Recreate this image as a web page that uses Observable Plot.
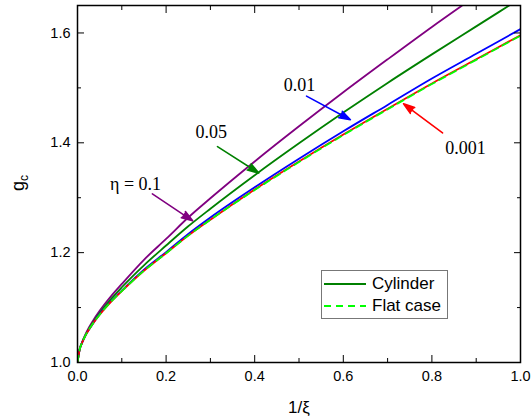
<!DOCTYPE html>
<html><head><meta charset="utf-8">
<script src="https://cdn.jsdelivr.net/npm/d3@7"></script>
<script src="https://cdn.jsdelivr.net/npm/@observablehq/plot@0.6"></script>
<style>
body{margin:0;background:#fff;}
#wrap{position:relative;width:532px;height:418px;}
#legend{position:absolute;left:321px;top:270px;width:125px;height:47px;border:1px solid #777;background:#fff;font-family:"Liberation Sans",Arial,sans-serif;font-size:17px;}
#legend .row{position:absolute;left:2px;height:20px;display:flex;align-items:center;}
#legend svg{margin-right:6px;}
</style></head><body><div id="wrap"><div id="legend"></div></div>
<script>
// 1/xi sample points
const xs = [0, 0.005, 0.01, 0.02, 0.035, 0.05, 0.075, 0.1, 0.15, 0.2, 0.25, 0.3, 0.4, 0.5, 0.6, 0.7, 0.8, 0.9, 1.0];
// g_c values
const flatCase = [1.000,1.024,1.035,1.052,1.071,1.087,1.110,1.130,1.167,1.199,1.231,1.260,1.314,1.365,1.414,1.461,1.507,1.551,1.595];
const eta0001  = [1.000,1.024,1.035,1.052,1.071,1.087,1.110,1.130,1.167,1.199,1.231,1.260,1.315,1.366,1.415,1.462,1.508,1.552,1.596];
const eta001   = [1.000,1.024,1.035,1.052,1.071,1.088,1.111,1.131,1.169,1.201,1.234,1.264,1.319,1.371,1.421,1.469,1.517,1.562,1.607];
const eta005   = [1.000,1.024,1.036,1.053,1.073,1.090,1.115,1.137,1.177,1.213,1.248,1.280,1.341,1.399,1.455,1.509,1.561,1.612,1.663];
const eta01    = [1.000,1.025,1.036,1.055,1.076,1.094,1.120,1.143,1.187,1.225,1.264,1.299,1.366,1.430,1.492,1.552,1.611,1.668,1.725];

const seriesKeys   = ["0.1", "0.05", "0.01", "0.001"];
const seriesColors = ["#800080", "#008000", "#0000ff", "#ff0000"];
const seriesVals   = [eta01, eta005, eta001, eta0001];

// annotations (data units)
const annLabels = ["η = 0.1", "0.05", "0.01", "0.001"];
const annTextX  = [0.131, 0.302, 0.501, 0.876];
const annTextY  = [1.325, 1.420, 1.505, 1.391];
const arrX1 = [0.169, 0.316, 0.517, 0.824];
const arrY1 = [1.307, 1.393, 1.485, 1.418];
const arrX2 = [0.260, 0.409, 0.616, 0.736];
const arrY2 = [1.258, 1.345, 1.442, 1.471];

const xMajor = [0, 0.2, 0.4, 0.6, 0.8, 1.0];
const xMinor = [0.1, 0.3, 0.5, 0.7, 0.9];
const yMajor = [1.0, 1.2, 1.4, 1.6];
const yMinor = [1.1, 1.3, 1.5];

const cyl = seriesKeys.flatMap((k, j) => xs.map((x, i) => ({x, y: seriesVals[j][i], key: k})));
const flat = xs.map((x, i) => ({x, y: flatCase[i]}));
const ann = annLabels.map((t, i) => ({t, tx: annTextX[i], ty: annTextY[i], x1: arrX1[i], y1: arrY1[i], x2: arrX2[i], y2: arrY2[i], c: seriesColors[i]}));

const fmt = d => d.toFixed(1);
const blank = () => "";
const chart = Plot.plot({
  width: 532, height: 418,
  marginLeft: 77, marginRight: 12, marginTop: 5, marginBottom: 56,
  x: {domain: [0, 1]},
  y: {domain: [1, 1.65]},
  color: {domain: seriesKeys, range: seriesColors},
  style: {fontFamily: "'Liberation Sans', Arial, sans-serif", fontSize: "14.5px", color: "black", background: "white"},
  marks: [
    Plot.line(cyl, {x: "x", y: "y", z: "key", stroke: "key", strokeWidth: 1.8, curve: "monotone-x", clip: true}),
    Plot.line(flat, {x: "x", y: "y", stroke: "#00ff00", strokeWidth: 1.8, strokeDasharray: "7,5", curve: "monotone-x", clip: true}),
    Plot.arrow(ann, {x1: "x1", y1: "y1", x2: "x2", y2: "y2", stroke: "c", strokeWidth: 1.6, headLength: 11, headAngle: 36}),
    Plot.text(ann, {x: "tx", y: "ty", text: "t", fontFamily: "'Liberation Serif', 'Times New Roman', serif", fontSize: 18, fill: "black"}),
    Plot.axisX({ticks: xMajor, tickSize: -7, tickPadding: 15, tickFormat: fmt, label: null}),
    Plot.axisX({ticks: xMinor, tickSize: -4, tickFormat: blank, label: null}),
    Plot.axisX({anchor: "top", ticks: xMajor, tickSize: -7, tickFormat: blank, label: null}),
    Plot.axisX({anchor: "top", ticks: xMinor, tickSize: -4, tickFormat: blank, label: null}),
    Plot.axisY({ticks: yMajor, tickSize: -7, tickPadding: 14, tickFormat: fmt, label: null}),
    Plot.axisY({ticks: yMinor, tickSize: -4, tickFormat: blank, label: null}),
    Plot.axisY({anchor: "right", ticks: yMajor, tickSize: -7, tickFormat: blank, label: null}),
    Plot.axisY({anchor: "right", ticks: yMinor, tickSize: -4, tickFormat: blank, label: null}),
    Plot.frame({stroke: "black", strokeWidth: 1.5}),
    Plot.text(["1/ξ"], {frameAnchor: "bottom", dy: 50, text: d => d, fontSize: 17})
  ]
});
document.getElementById("wrap").prepend(chart);

const svg = d3.select(chart);
// filled arrowheads
svg.selectAll('g[aria-label="arrow"] path').each(function() {
  const s = this.getAttribute("stroke") || d3.select(this.parentNode).attr("stroke");
  this.setAttribute("fill", s);
  this.setAttribute("stroke-linejoin", "miter");
});

// y-axis title g_c with subscript
const t = svg.append("text")
  .attr("transform", "translate(24,183) rotate(-90)")
  .attr("text-anchor", "middle")
  .attr("font-family", "'Liberation Sans', Arial, sans-serif")
  .attr("font-size", 18)
  .attr("fill", "black");
t.append("tspan").text("g");
t.append("tspan").attr("font-size", 12).attr("dy", 4).text("c");

// legend
const legendItems = [{label: "Cylinder", color: "#008000", dash: null}, {label: "Flat case", color: "#00ff00", dash: "7,5"}];
const lg = d3.select("#legend");
legendItems.forEach((it, i) => {
  const row = lg.append("div").attr("class", "row").style("top", (3 + i * 22) + "px");
  const s = row.append("svg").attr("width", 42).attr("height", 10);
  s.append("line").attr("x1", 0).attr("x2", 42).attr("y1", 5).attr("y2", 5)
    .attr("stroke", it.color).attr("stroke-width", 2).attr("stroke-dasharray", it.dash);
  row.append("span").text(it.label);
});
</script></body></html>
